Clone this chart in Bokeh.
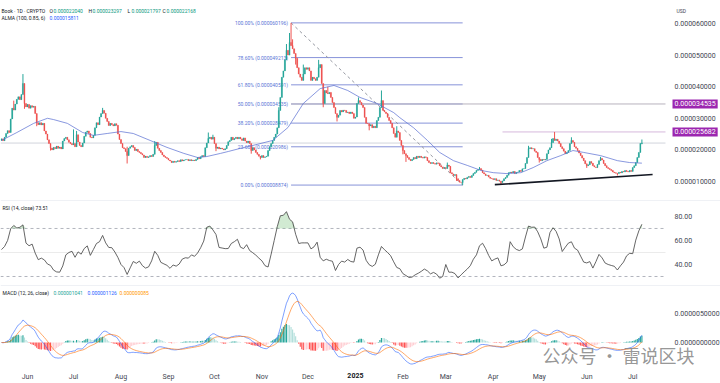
import numpy as np
import pandas as pd
from bokeh.plotting import figure
from bokeh.layouts import column
from bokeh.models import (ColumnDataSource, FixedTicker, PrintfTickFormatter,
                          Label, Span, Range1d)
from bokeh.core.properties import value
from bokeh.embed import file_html
from bokeh.resources import INLINE

# ---------------- data (prices in millionths of USD) ----------------
START = "2024-05-15"
U = 1e-6

close_u = [
 23.5, 22.9, 24.0, 25.2, 26.1, 25.5, 29.8, 33.2, 32.6, 34.5,
 36.0, 36.8, 35.9, 37.5, 41.0, 34.7, 33.6, 34.4, 33.2, 34.0,
 33.5, 33.8, 31.5, 28.6, 28.0, 28.6, 27.9, 28.4, 26.0, 25.0,
 23.2, 22.0, 20.6, 20.0, 20.8, 20.4, 21.2, 20.5, 20.9, 20.3,
 22.8, 23.6, 24.0, 23.2, 22.4, 22.0, 21.6, 22.0, 21.0, 24.8,
 22.5, 21.4, 21.0, 22.2, 24.3, 25.6, 26.0, 25.2, 24.0, 23.8,
 24.6, 27.0, 28.6, 28.0, 30.4, 31.5, 32.5, 31.6, 30.0, 29.0,
 27.7, 28.4, 28.0, 27.6, 28.3, 27.8, 25.0, 23.3, 22.0, 20.7,
 20.4, 19.5, 18.2, 20.5, 21.0, 21.4, 20.8, 19.8, 20.2, 19.5,
 19.2, 18.8, 18.4, 17.6, 18.0, 17.6, 17.8, 18.2, 17.9, 18.6,
 21.4, 22.4, 20.5, 19.8, 19.2, 18.4, 17.9, 17.6, 17.3, 16.8,
 16.5, 16.0, 16.4, 16.1, 16.3, 16.6, 16.3, 16.9, 16.5, 16.8,
 16.9, 17.0, 16.6, 16.9, 16.6, 16.8, 16.6, 17.0, 17.6, 17.2,
 17.8, 18.2, 17.9, 20.7, 22.2, 23.6, 24.0, 23.4, 24.0, 22.0,
 20.5, 20.9, 20.3, 20.6, 20.3, 20.0, 20.4, 21.4, 22.6, 23.0,
 24.0, 23.2, 23.6, 24.0, 23.5, 24.0, 23.5, 23.0, 23.8, 22.8,
 22.3, 22.8, 22.0, 19.8, 20.7, 20.0, 19.2, 18.6, 18.0, 17.6,
 18.2, 17.6, 17.8, 18.0, 19.8, 21.0, 22.0, 23.0, 24.0, 25.0,
 27.0, 32.5, 36.6, 43.0, 45.0, 48.5, 51.5, 50.0, 54.0, 53.0,
 52.0, 50.5, 49.0, 46.0, 44.0, 43.0, 42.0, 44.0, 46.0, 45.5,
 46.0, 45.0, 42.0, 43.0, 42.5, 42.0, 43.0, 46.0, 47.0, 41.0,
 34.7, 38.8, 38.0, 37.8, 38.2, 36.6, 35.0, 33.4, 31.5, 30.3,
 31.0, 32.5, 32.0, 32.6, 32.5, 31.8, 32.0, 31.5, 32.0, 31.5,
 30.0, 30.4, 34.7, 35.6, 35.0, 34.2, 33.4, 30.3, 28.4, 28.3,
 27.6, 28.0, 27.0, 27.5, 27.0, 29.3, 30.3, 33.4, 35.6, 32.5,
 32.0, 31.5, 30.3, 29.3, 28.4, 27.0, 25.2, 24.0, 26.0, 25.5,
 23.0, 21.4, 19.8, 18.8, 18.2, 17.6, 17.0, 16.6, 17.0, 17.6,
 17.2, 18.0, 17.6, 18.0, 17.6, 17.4, 17.8, 17.6, 16.6, 16.0,
 15.7, 16.0, 15.7, 15.5, 15.9, 15.7, 15.0, 14.6, 14.1, 14.4,
 14.1, 15.2, 14.8, 12.8, 12.4, 11.9, 12.2, 10.9, 10.3, 9.8,
 9.7, 10.6, 11.0, 10.8, 11.3, 11.6, 11.3, 11.9, 12.5, 12.9,
 13.5, 13.8, 14.1, 13.6, 12.8, 12.4, 11.9, 12.0, 11.4, 11.0,
 10.9, 10.6, 10.9, 10.3, 10.5, 10.1, 9.7, 10.2, 10.9, 11.3,
 12.0, 12.8, 13.0, 12.7, 13.2, 12.5, 12.9, 13.0, 13.5, 13.2,
 14.0, 14.1, 15.7, 17.6, 20.4, 20.7, 20.3, 20.4, 19.6, 19.2,
 17.6, 17.0, 16.6, 17.0, 16.8, 17.0, 18.8, 20.0, 20.7, 22.3,
 23.6, 23.0, 23.4, 22.8, 22.0, 21.0, 20.4, 19.6, 18.8, 19.2,
 19.8, 22.0, 23.0, 22.4, 21.0, 20.5, 19.8, 19.0, 18.2, 17.4,
 16.6, 15.6, 15.0, 15.3, 16.3, 15.8, 15.0, 14.6, 14.4, 15.4,
 16.6, 17.3, 16.8, 15.7, 15.0, 14.4, 14.1, 13.8, 13.5, 13.0,
 12.8, 12.6, 12.5, 12.9, 12.7, 13.2, 13.0, 13.5, 13.2, 13.0,
 13.5, 13.2, 14.4, 15.0, 16.0, 17.6, 19.2, 22.04, 22.168,
]
first_open_u = 23.0
wick_high_u = {8: 35.6, 14: 44.0, 47: 26.5, 49: 26.0, 66: 33.3, 82: 21.0, 100: 22.8,
               135: 25.5, 138: 24.8, 181: 33.5, 186: 53.5, 188: 57.0, 189: 60.196,
               190: 55.0, 197: 47.0, 207: 48.5, 213: 40.0, 233: 36.6, 248: 38.8,
               258: 27.5, 291: 16.0, 312: 14.6, 344: 21.3, 359: 23.5, 361: 25.682,
               372: 24.0, 391: 17.8, 418: 23.297}
wick_low_u = {15: 33.0, 23: 27.5, 32: 19.8, 82: 15.7, 140: 19.6, 163: 18.8, 169: 17.0,
              192: 47.0, 210: 33.5, 219: 29.0, 240: 26.2, 262: 18.6, 264: 16.2,
              297: 10.2, 301: 8.874, 326: 9.0, 351: 16.0, 382: 14.3, 402: 11.9,
              418: 21.797}

alma_days = [0, 10, 21, 30, 34, 43, 53, 60, 69, 78, 86, 97, 108, 119, 128, 134, 143,
             148, 156, 164, 177, 187, 197, 208, 217, 226, 234, 245, 256, 260, 269,
             278, 286, 295, 304, 313, 321, 330, 339, 347, 356, 365, 373, 380, 391,
             402, 410, 418]
alma_u = [23.0, 25.5, 28.4, 30.0, 29.6, 28.4, 25.5, 24.6, 25.2, 25.8, 25.2, 23.0, 20.8,
          18.9, 17.6, 17.9, 18.9, 19.5, 20.5, 21.4, 23.0, 27.1, 34.7, 39.4, 40.4, 38.8,
          36.6, 34.7, 31.8, 30.2, 27.0, 23.0, 19.2, 16.6, 15.1, 13.5, 12.8, 12.5, 12.8,
          14.4, 16.6, 18.2, 19.8, 19.2, 18.2, 16.6, 16.0, 15.811]

# RSI(14) read every second day
rsi_step = 2
rsi_vals = [
 52.4, 55, 60, 69.8, 72.5, 70.4, 71, 73, 57.8, 55.6,
 57, 49.5, 44, 45.3, 43.8, 40.4, 39.2, 35.3, 33.8, 33.6,
 38.8, 48, 50, 51, 46, 50.5, 48.6, 53.3, 55.5, 47.6,
 52.5, 57.5, 59, 64.2, 58, 54.2, 54, 50.4, 45.8, 40,
 37.4, 31.7, 37.2, 42.5, 41, 42.8, 39, 37, 38, 43,
 51, 47.6, 41.8, 40.5, 39.3, 36.8, 39.6, 38.6, 40.4, 44.5,
 45.6, 45.3, 48, 46.8, 49.6, 54, 59.5, 71, 72, 68.8,
 65, 54.2, 53.7, 53.2, 53.3, 57.5, 59, 61, 54.4, 53.2,
 56.5, 51.6, 49.8, 47.8, 45.3, 43, 39, 37.9, 48.6, 60,
 71.5, 80.6, 81, 84, 77.7, 75.5, 65.2, 57.5, 58, 58,
 58, 53, 54.7, 58.6, 46, 43, 44.4, 43.3, 42.7, 35,
 40, 42.8, 42, 44.2, 42.5, 42, 53.6, 54.4, 52, 43.5,
 39.8, 38.4, 40.2, 48, 55, 52.3, 50, 47.3, 42.2, 37.5,
 36.5, 32.4, 30.8, 29.2, 29.5, 31.4, 32.7, 34.3, 36.2, 34.7,
 32.2, 33.4, 32, 28.6, 30, 40, 33.6, 33.6, 32.4, 28.8,
 31.4, 33.9, 36.2, 39, 44.4, 48, 55.6, 57.7, 53.2, 47.5,
 43, 44.5, 45.5, 38.9, 39.7, 42, 59, 54.8, 52.6, 51.6,
 53, 62.9, 72, 71, 71.2, 67.2, 61.3, 53.6, 54.4, 66.6,
 70.6, 67.6, 61.3, 50.8, 54.4, 57.8, 58.9, 53.6, 52, 47,
 42, 41.3, 42.4, 37, 42.4, 48.4, 45.5, 41.2, 40, 39.2,
 38.5, 35.4, 38.9, 42, 47.2, 49.3, 49, 60.3, 68, 73.51,
]

macd_header = ["0.000001041", "0.000001126", "0.000000085"]

fib_high_u, fib_low_u = 60.196, 8.874
fib_days = (189, 301)
fib_levels = [1.0, 0.786, 0.618, 0.5, 0.382, 0.236, 0.0]
ray_u = [34.535, 25.682]
ray_days = [189, 327]
trend_days = [322, 425]
trend_u = [9.0, 12.2]

price_ticks_u = [10, 20, 30, 40, 50, 60]
rsi_ticks = [40, 60, 80]
macd_ticks = [0.0, 5e-6]
month_labels = ["Jun", "Jul", "Aug", "Sep", "Oct", "Nov", "Dec", "2025",
                "Feb", "Mar", "Apr", "May", "Jun", "Jul"]

# ---------------- derived ----------------
UP, DOWN = "#26a69a", "#ef5350"
FONT = "Roboto"
n = len(close_u)
day = np.arange(n)
close = np.array(close_u) * U
open_ = np.concatenate([[first_open_u * U], close[:-1]])
high = np.maximum(open_, close)
low = np.minimum(open_, close)
for k, v in wick_high_u.items():
    high[k] = max(high[k], v * U)
for k, v in wick_low_u.items():
    low[k] = min(low[k], v * U)
col = np.where(close >= open_, UP, DOWN)
src = ColumnDataSource(dict(x=day, o=open_, c=close, h=high, l=low, col=col))

t0 = pd.Timestamp(START)
month_starts = pd.date_range("2024-06-01", "2025-07-01", freq="MS")
tick_days = [int((m - t0).days) for m in month_starts]

def ema(a, span):
    alpha = 2.0 / (span + 1)
    out = np.empty_like(a)
    out[0] = a[0]
    for i in range(1, len(a)):
        out[i] = alpha * a[i] + (1 - alpha) * out[i - 1]
    return out

macd = ema(close, 12) - ema(close, 26)
signal = ema(macd, 9)
hist = macd - signal
prev = np.concatenate([[0.0], hist[:-1]])
hcol = np.where(hist >= 0, np.where(hist >= prev, "#26a69a", "#b2dfdb"),
                np.where(hist < prev, "#ff5252", "#ffcdd2"))

# ---------------- layout: frames span the whole width; axes pinned inside ----------
FW = 720
PLOT_END = 433.4          # right edge of the candle area (day units)
xr = Range1d(-0.65, 469.3)
PX = 665                  # screen x of PLOT_END inside the frame

def make_fig(fh, yr, xaxis):
    p = figure(frame_width=FW, frame_height=fh, x_range=xr, y_range=yr,
               output_backend="svg", toolbar_location=None,
               x_axis_location="below" if xaxis else None, y_axis_location="right",
               min_border_left=0, min_border_right=0, min_border_top=0,
               min_border_bottom=0)
    p.grid.visible = False
    p.outline_line_color = None
    p.yaxis.fixed_location = PLOT_END
    for ax in p.axis:
        ax.axis_line_color = None
        ax.major_tick_line_color = None
        ax.minor_tick_line_color = None
        ax.major_tick_out = 0
        ax.major_tick_in = 0
        ax.minor_tick_out = 0
        ax.major_label_text_font_size = "7px"
        ax.major_label_text_color = "#434651"
        ax.major_label_text_font = FONT
        ax.major_label_standoff = 9
    return p

def txt(p, x, y, s, color="#131722", size="5px", **kw):
    p.add_layout(Label(x=x, y=y, x_units="screen", y_units="screen", text=s,
                       text_color=color, text_font_size=size, text_font=FONT,
                       text_baseline="middle", **kw))

# ---------------- price panel ----------------
PH = 200
pp = make_fig(PH, Range1d(3.99e-6, 67.28e-6), False)
pp.yaxis.ticker = FixedTicker(ticks=[v * U for v in price_ticks_u])
pp.yaxis.formatter = PrintfTickFormatter(format="%.9f")

pp.segment(x0=[xr.start], x1=[PLOT_END], y0=[close[-1]], y1=[close[-1]],
           line_color="#d1d4dc", line_width=1)

fib_prices = [(fib_low_u + lv * (fib_high_u - fib_low_u)) * U for lv in fib_levels]
pp.segment(x0=[fib_days[0]] * len(fib_levels), x1=[fib_days[1]] * len(fib_levels),
           y0=fib_prices, y1=fib_prices, line_color="#8793d9", line_width=1)
fib_labels = [f"{lv*100:.2f}% ({pr:.9f})" for lv, pr in zip(fib_levels, fib_prices)]
pp.text(x=[fib_days[0]] * len(fib_levels), y=fib_prices, text=fib_labels,
        text_align="right", text_baseline="middle", x_offset=-3,
        text_font_size="5px", text_color="#5b76d6", text_font=value(FONT))
pp.segment(x0=[fib_days[0]], x1=[fib_days[1]], y0=[fib_high_u * U], y1=[fib_low_u * U],
           line_color="#9598a1", line_dash="3 3", line_width=1)

pp.segment(x0=ray_days, x1=[PLOT_END] * len(ray_days), y0=[v * U for v in ray_u],
           y1=[v * U for v in ray_u], line_color=["#b7b2bd", "#d6b8dc"], line_width=1)

pp.segment(x0="x", x1="x", y0="l", y1="h", line_color="col", line_width=1, source=src)
pp.vbar(x="x", top="o", bottom="c", width=0.7, fill_color="col", line_color="col",
        line_width=0.3, source=src)

pp.line(alma_days, [v * U for v in alma_u], line_color="#5b6fd2", line_width=0.9,
        line_alpha=0.8)
pp.line(trend_days, [v * U for v in trend_u], line_color="#131722", line_width=1.6)

for v in ray_u:
    pp.add_layout(Label(x=PX + 7, y=v * U, x_units="screen", y_units="data",
                        text=f"{v*U:.9f}", text_color="white", text_font_size="7px",
                        text_font=FONT, text_baseline="middle",
                        background_fill_color="#9c27b0", padding=2))
txt(pp, PX + 11, PH - 10, "USD", color="#434651")

hx = [1, 49, 88, 127, 162]
txt(pp, hx[0], PH - 10, "Book · 1D · CRYPTO")
ohlc = [open_[-1], high[-1], low[-1], close[-1]]
for xpos, letter, val in zip(hx[1:], "OHLC", ohlc):
    txt(pp, xpos, PH - 10, letter)
    txt(pp, xpos + 4, PH - 10, f"{val:.9f}", color="#089981")
txt(pp, 1, PH - 17, "ALMA (100, 0.85, 6)")
txt(pp, 49, PH - 17, f"{alma_u[-1]*U:.9f}", color="#2962ff")

# ---------------- RSI panel ----------------
RH = 85
rp = make_fig(RH, Range1d(22.5, 93.3), False)
rp.yaxis.ticker = FixedTicker(ticks=rsi_ticks)
rp.yaxis.formatter = PrintfTickFormatter(format="%.2f")
rsi_days = np.arange(len(rsi_vals)) * rsi_step
rsi = np.array(rsi_vals)
rp.add_layout(Span(location=93.3, dimension="width", line_color="#e0e3eb", line_width=1))
rp.segment(x0=[xr.start], x1=[PLOT_END], y0=[50], y1=[50], line_color="#ebebeb",
           line_width=1)
rp.segment(x0=[xr.start] * 2, x1=[PLOT_END] * 2, y0=[70, 30], y1=[70, 30],
           line_color="#b2b5be", line_dash="3 3", line_width=1)
rp.varea(x=rsi_days, y1=np.full(len(rsi), 70.0), y2=np.maximum(rsi, 70.0),
         fill_color="#66bb6a", fill_alpha=0.3)
rp.line(rsi_days, rsi, line_color="#4a4a4a", line_width=0.85)
txt(rp, 2, RH - 7, f"RSI (14, close)  {rsi[-1]:.2f}")

# ---------------- MACD panel ----------------
MH = 98
MACD_FLOOR = -3.62e-6
mp = make_fig(MH, Range1d(-7.07e-6, 9.83e-6), True)
mp.yaxis.ticker = FixedTicker(ticks=macd_ticks)
mp.yaxis.formatter = PrintfTickFormatter(format="%.10f")
mp.xaxis.fixed_location = MACD_FLOOR
mp.xaxis.ticker = FixedTicker(ticks=tick_days)
mp.xaxis.major_label_overrides = {d: ("" if lab == "2025" else lab)
                                  for d, lab in zip(tick_days, month_labels)}
mp.xaxis.major_label_standoff = 10
mp.add_layout(Span(location=9.83e-6, dimension="width", line_color="#e0e3eb", line_width=1))
mp.vbar(x=day, top=hist, bottom=0, width=0.75, fill_color=hcol, line_color=None)
mp.line(day, macd, line_color="#2962ff", line_width=0.8, line_alpha=0.75)
mp.line(day, signal, line_color="#ff6d00", line_width=0.8, line_alpha=0.75)
for d, lab in zip(tick_days, month_labels):
    if lab == "2025":
        mp.add_layout(Label(x=d, y=MACD_FLOOR, x_units="data", y_units="data",
                            y_offset=-10, text=lab,
                            text_align="center", text_baseline="top",
                            text_font_size="7px", text_font=FONT,
                            text_font_style="bold", text_color="#131722"))
txt(mp, 2, MH - 7, "MACD (12, 26, close)")
mx = [53, 87, 119]
for xpos, s, c in zip(mx, macd_header, ["#26a69a", "#2962ff", "#ff9800"]):
    txt(mp, xpos, MH - 7, s, color=c)
mp.add_layout(Label(x=542, y=29, x_units="screen", y_units="screen",
                    text="公众号 · 雷说区块", text_color="#8a8a8a", text_alpha=0.9,
                    text_font_size="18px", text_font="Noto Sans CJK SC",
                    text_baseline="middle"))

layout = column(pp, rp, mp, spacing=0)
open("out.html", "w").write(file_html(layout, INLINE))
